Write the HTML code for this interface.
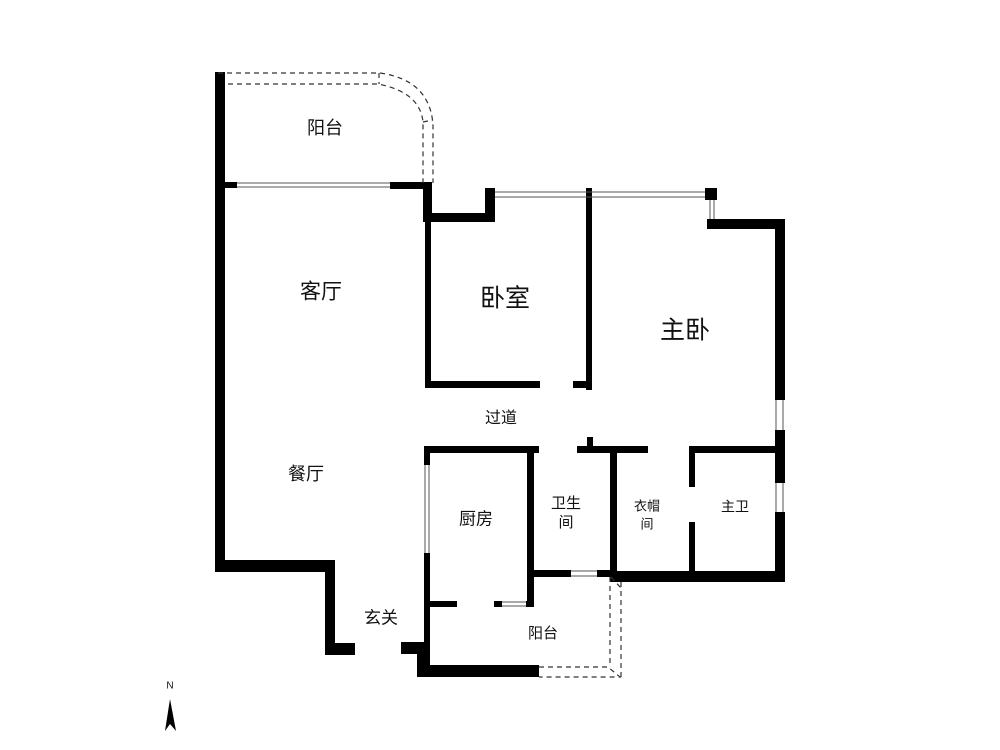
<!DOCTYPE html>
<html><head><meta charset="utf-8"><style>
html,body{margin:0;padding:0;background:#fff;}
svg{display:block}
text{font-family:"Liberation Sans","Noto Sans CJK SC",sans-serif;fill:#111;text-anchor:middle;dominant-baseline:middle}
</style></head><body>
<svg width="1000" height="750" viewBox="0 0 1000 750" xmlns="http://www.w3.org/2000/svg">
<rect width="1000" height="750" fill="#fff"/>
<g fill="#000">
<!-- left outer -->
<rect x="215" y="72" width="10" height="500"/>
<rect x="215" y="560" width="120" height="12"/>
<rect x="325" y="560" width="10" height="95"/>
<rect x="325" y="643" width="30" height="12"/>
<!-- living top -->
<rect x="225" y="182" width="12" height="6"/>
<rect x="390" y="182" width="42" height="7"/>
<rect x="423" y="182" width="9" height="40"/>
<rect x="423" y="213" width="72" height="9"/>
<rect x="485" y="188" width="10" height="34"/>
<!-- bedroom -->
<rect x="425" y="215" width="6" height="173"/>
<rect x="425" y="381" width="115" height="7"/>
<rect x="573" y="381" width="15" height="7"/>
<rect x="586" y="188" width="6" height="202"/>
<rect x="705" y="188" width="12" height="12"/>
<!-- main bedroom -->
<rect x="707" y="219" width="78" height="10"/>
<rect x="775" y="219" width="10" height="181"/>
<rect x="775" y="430" width="10" height="53"/>
<rect x="775" y="512" width="10" height="70"/>
<!-- hall partitions -->
<rect x="424" y="446" width="115" height="7"/>
<rect x="424" y="446" width="6" height="19"/>
<rect x="424" y="553" width="6" height="124"/>
<rect x="527" y="446" width="7" height="161"/>
<rect x="430" y="601" width="27" height="6"/>
<rect x="494" y="601" width="8" height="6"/>
<rect x="526" y="601" width="8" height="6"/>
<rect x="533" y="570" width="38" height="7"/>
<rect x="597" y="570" width="14" height="7"/>
<rect x="587" y="437" width="6" height="12"/>
<rect x="577" y="446" width="71" height="7"/>
<rect x="610" y="446" width="7" height="131"/>
<rect x="689" y="446" width="88" height="7"/>
<rect x="689" y="446" width="6" height="41"/>
<rect x="689" y="522" width="6" height="53"/>
<rect x="610" y="571" width="175" height="11"/>
<!-- entrance / balcony -->
<rect x="401" y="642" width="22" height="12"/>
<rect x="417" y="642" width="13" height="35"/>
<rect x="417" y="665" width="122" height="12"/>
</g>
<!-- glass lines -->
<g stroke="#555" stroke-width="1" fill="none">
<line x1="237" y1="183" x2="390" y2="183"/><line x1="237" y1="187" x2="390" y2="187"/>
<line x1="495" y1="192" x2="705" y2="192"/><line x1="495" y1="197" x2="705" y2="197"/>
<line x1="710" y1="200" x2="710" y2="219"/><line x1="714" y1="200" x2="714" y2="219"/>
<line x1="776" y1="400" x2="776" y2="430"/><line x1="783" y1="400" x2="783" y2="430"/>
<line x1="776" y1="483" x2="776" y2="512"/><line x1="783" y1="483" x2="783" y2="512"/>
<line x1="425" y1="465" x2="425" y2="553"/><line x1="429" y1="465" x2="429" y2="553"/>
<line x1="502" y1="602" x2="526" y2="602"/><line x1="502" y1="606" x2="526" y2="606"/>
<line x1="571" y1="571" x2="597" y2="571"/><line x1="571" y1="576" x2="597" y2="576"/>
</g>
<!-- dashed balcony outlines -->
<g stroke="#333" stroke-width="1.2" fill="none" stroke-dasharray="5,4">
<path d="M218 73 H380 Q430 80 433 125 V183"/>
<path d="M228 84 H378 Q420 92 423 122 V183"/>
<line x1="379" y1="73" x2="379" y2="84"/>
<line x1="423" y1="122" x2="433" y2="120"/>
<path d="M539 667 H608 L620 677 H539"/>
<line x1="610" y1="577" x2="610" y2="667"/>
<line x1="621" y1="582" x2="621" y2="677"/>
<line x1="611" y1="577" x2="621" y2="588"/>
</g>
<!-- labels -->
<text x="325" y="129" font-size="18">阳台</text>
<text x="321" y="293" font-size="21">客厅</text>
<text x="505" y="300" font-size="25">卧室</text>
<text x="685" y="332" font-size="25">主卧</text>
<text x="501" y="419" font-size="16">过道</text>
<text x="306" y="475" font-size="18">餐厅</text>
<text x="476" y="520" font-size="17">厨房</text>
<text x="566" y="504" font-size="15">卫生</text>
<text x="566" y="523" font-size="15">间</text>
<text x="647" y="507" font-size="13">衣帽</text>
<text x="647" y="525" font-size="13">间</text>
<text x="735" y="508" font-size="14">主卫</text>
<text x="381" y="619" font-size="17">玄关</text>
<text x="543" y="634" font-size="15">阳台</text>
<text x="170" y="686" font-size="10">N</text>
<polygon points="170,699 165,731 170,724 176,731" fill="#000"/>
</svg>
</body></html>
